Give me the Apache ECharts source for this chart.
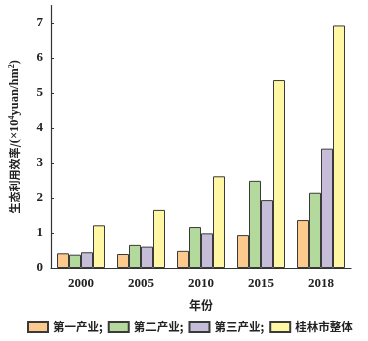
<!DOCTYPE html>
<html><head><meta charset="utf-8">
<script src="https://cdn.jsdelivr.net/npm/echarts@6/dist/echarts.min.js"></script>
<style>html,body{margin:0;padding:0;background:#fff}#c{width:368px;height:341px}</style>
</head><body><div id="c"></div>
<script>
const years = ['2000','2005','2010','2015','2018'];
const seriesNames = ['第一产业;','第二产业;','第三产业;','桂林市整体'];
const primary = [0.42, 0.40, 0.49, 0.94, 1.37];
const secondary = [0.38, 0.66, 1.17, 2.49, 2.15];
const tertiary = [0.45, 0.61, 0.99, 1.94, 3.41];
const wholeCity = [1.22, 1.66, 2.62, 5.37, 6.93];
const colors = ['#FBCA8C','#B3DA9C','#C6BDD8','#FFF7A3'];
const dataSets = [primary, secondary, tertiary, wholeCity];
const numFont = '"Liberation Serif", "Times New Roman", serif';
const cjkFont = '"Noto Sans CJK SC", sans-serif';
const chart = echarts.init(document.getElementById('c'));
chart.setOption({
  animation: false,
  grid: {left: 48, right: 17, top: 5.5, bottom: 73},
  legend: {
    bottom: 8, left: 27, width: 341, padding: 0, itemWidth: 20, itemHeight: 10, itemGap: 5, icon: 'rect',
    textStyle: {fontFamily: cjkFont, fontWeight: 'bold', fontSize: 11.5, color: '#222'},
    data: seriesNames
  },
  xAxis: {
    type: 'category', data: years,
    name: '年份', nameLocation: 'middle', nameGap: 31,
    nameTextStyle: {fontFamily: cjkFont, fontWeight: 'bold', fontSize: 12, color: '#222'},
    axisLine: {lineStyle: {color: '#333', width: 1.2}},
    axisTick: {show: false},
    axisLabel: {fontFamily: numFont, fontWeight: 'bold', fontSize: 13, color: '#222', margin: 9}
  },
  yAxis: {
    type: 'value', min: 0, max: 7.5, interval: 1,
    name: '{c|生态利用效率/}{l|(×10}{s|4}{l|yuan/hm}{s|2}{l|)}', nameLocation: 'middle', nameGap: 30,
    nameTextStyle: {
      color: '#222',
      rich: {
        c: {fontFamily: cjkFont, fontWeight: 'bold', fontSize: 11, color: '#222'},
        l: {fontFamily: numFont, fontWeight: 'bold', fontSize: 12.5, color: '#222'},
        s: {fontFamily: numFont, fontWeight: 'bold', fontSize: 8, color: '#222', verticalAlign: 'top', padding: [0, 0, 5, 0]}
      }
    },
    axisLine: {show: true, lineStyle: {color: '#333', width: 1.2}},
    axisTick: {show: true, inside: true, length: 3, lineStyle: {color: '#333'}},
    splitLine: {show: false},
    axisLabel: {fontFamily: numFont, fontWeight: 'bold', fontSize: 13, color: '#222', margin: 8, showMaxLabel: false}
  },
  series: dataSets.map((d, i) => ({
    name: seriesNames[i], type: 'bar', data: d,
    barGap: '0%', barCategoryGap: '20%',
    itemStyle: {color: colors[i], borderColor: '#3a3a3a', borderWidth: 1}
  }))
});
</script></body></html>
